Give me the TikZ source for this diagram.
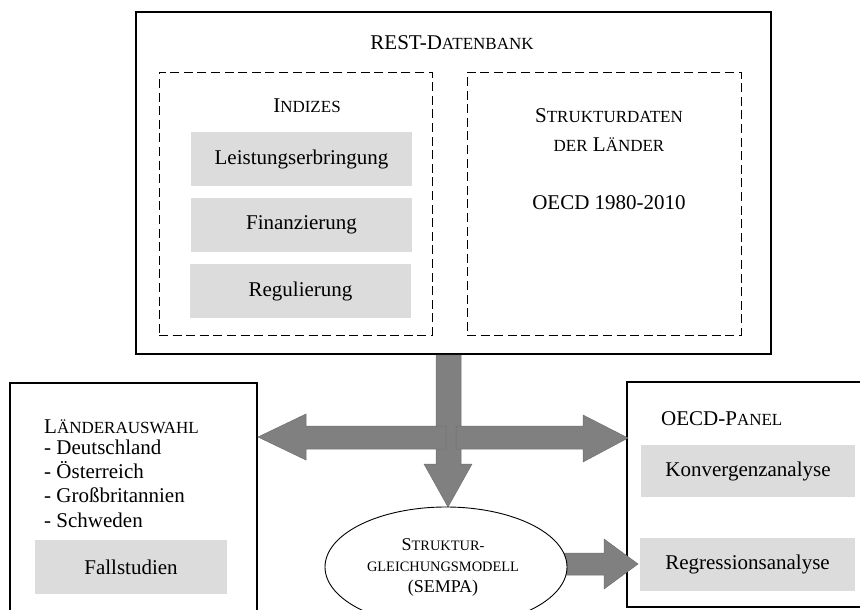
\documentclass[tikz,border=0pt]{standalone}
\usepackage{fontspec}
\setmainfont{Liberation Serif}
\usetikzlibrary{shapes.geometric}
\definecolor{boxgray}{HTML}{DCDCDC}
\definecolor{arrgray}{HTML}{808080}
\definecolor{arredge}{HTML}{707070}
\newcommand\ksc[1]{{\fontsize{17}{20}\selectfont #1}}
\newcommand\kscs[1]{{\fontsize{14.4}{17}\selectfont #1}}
\begin{document}
\begin{tikzpicture}[x=1pt,y=-1pt,
  font=\fontsize{21}{25}\selectfont,
  frame/.style={draw=black, line width=1.3pt, inner sep=0pt},
  dbox/.style={draw=black, line width=0.9pt, dash pattern=on 9pt off 4.6pt, inner sep=0pt},
  gbox/.style={fill=boxgray, inner sep=0pt},
  txt/.style={inner sep=0pt},
  blockarrow/.style={fill=arrgray, draw=arredge, line width=0.5pt}]
\useasboundingbox (0,0) rectangle (860,610);

% REST database frame and vertical arrow (under the horizontal ones)
\node[frame, minimum width=635, minimum height=342] (db) at (453.5,183) {};
\coordinate (vtip) at (448,507);
\filldraw[blockarrow] (436,355) -- (461,355) -- (461,464) -- (472,464) -- (vtip)
  -- (424,464) -- (436,464) -- cycle;

% REST database contents
\node[txt] (dbt) at (452,43) {REST-D\ksc{ATENBANK}};
\node[dbox, minimum width=273, minimum height=263] (idx) at (295.5,203.5) {};
\node[dbox, minimum width=274, minimum height=263] (sd) at (604,203.5) {};
\node[txt] (idxt) at (307,106) {I\ksc{NDIZES}};
\node[gbox, minimum width=221, minimum height=54] (le) at (301.5,159) {Leistungserbringung};
\node[gbox, minimum width=221, minimum height=54] (fi) at (301.5,225) {Finanzierung};
\node[gbox, minimum width=221, minimum height=54] (re) at (300.5,291) {Regulierung};
\node[txt, anchor=base] (sdt1) at (609,122) {S\ksc{TRUKTURDATEN}};
\node[txt, anchor=base] (sdt2) at (609,151) {\ksc{DER} L\ksc{ÄNDER}};
\node[txt, anchor=base] (sdt3) at (609,209) {OECD 1980-2010};

% left box
\node[frame, minimum width=247, minimum height=240] (la) at (133.5,503) {};
\node[txt, anchor=base west] (lat) at (44,433) {L\ksc{ÄNDERAUSWAHL}};
\node[txt, anchor=base west] (l1) at (44,454) {- Deutschland};
\node[txt, anchor=base west] (l2) at (44,478) {- Österreich};
\node[txt, anchor=base west] (l3) at (44,502) {- Großbritannien};
\node[txt, anchor=base west] (l4) at (44,527) {- Schweden};
\node[gbox, minimum width=192, minimum height=54] (fs) at (131,567) {Fallstudien};

% right box
\node[frame, minimum width=243, minimum height=225] (op) at (748.5,494.5) {};
\node[txt, anchor=base west] (opt) at (661,425) {OECD-P\ksc{ANEL}};
\node[gbox, minimum width=214, minimum height=52] (ko) at (748,471) {Konvergenzanalyse};
\node[gbox, minimum width=215, minimum height=53] (rg) at (747.5,564.5) {Regressionsanalyse};

% horizontal arrows
\coordinate (ltip) at (258,437);
\coordinate (rtip) at (628,438);
\filldraw[blockarrow] (446,426) -- (446,449) -- (306,449) -- (306,460) -- (ltip)
  -- (306,414) -- (306,426) -- cycle;
\filldraw[blockarrow] (456,426) -- (583,426) -- (583,415) -- (rtip)
  -- (583,462) -- (583,449) -- (456,449) -- cycle;

% arrow ellipse -> regression
\coordinate (btip) at (638,564);
\filldraw[blockarrow] (550,553) -- (604,553) -- (604,539) -- (btip)
  -- (604,589) -- (604,575) -- (550,575) -- cycle;

% ellipse
\node[ellipse, draw=black, line width=0.9pt, fill=white, minimum width=242, minimum height=120, inner sep=0pt] (sem) at (446,567) {};
\node[txt, anchor=base] (se1) at (443,550) {\fontsize{18}{21}\selectfont S\kscs{TRUKTUR-}};
\node[txt, anchor=base] (se2) at (443,571) {\kscs{GLEICHUNGSMODELL}};
\node[txt, anchor=base] (se3) at (443,592) {\fontsize{18}{21}\selectfont (SEMPA)};
\end{tikzpicture}
\end{document}
